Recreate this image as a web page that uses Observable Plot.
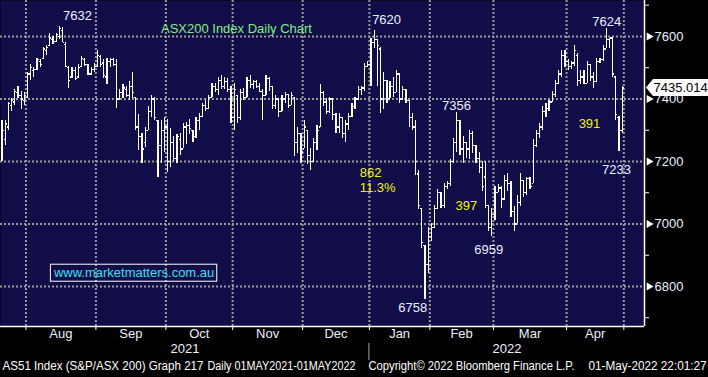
<!DOCTYPE html>
<html><head><meta charset="utf-8">
<script src="https://cdn.jsdelivr.net/npm/d3@7"></script>
<script src="https://cdn.jsdelivr.net/npm/@observablehq/plot@0.6"></script>
<style>
html,body{margin:0;padding:0;background:#000;}
#chart{width:708px;height:377px;overflow:hidden;}
</style></head><body><div id="chart"></div>
<script>
// ---- data (daily OHLC, ASX200, late Jul 2021 - 29 Apr 2022) ----
const openP = [
  7210,7270,7310,7380,7390,7420,7410,7395,
  7405,7480,7490,7495,7520,7530,7555,7570,7590,7585,7600,7620,7575,7500,7470,7490,7470,7505,7525,7510,7480,7495,
  7505,7535,7515,7470,7520,7525,7510,7400,7420,7430,7410,7440,7405,7310,7280,7260,7300,7360,7400,7330,7250,7300,
  7310,7200,7260,7210,7270,7240,7310,7315,7300,7280,7330,7345,7380,7370,7405,7440,7430,7460,7440,7455,7430,
  7340,7410,7340,7420,7405,7460,7445,7455,7440,7425,7410,7465,7440,7380,7400,7360,7400,7415,7380,7405,7260,7290,
  7240,7300,7220,7200,7260,7310,7420,7390,7360,7400,7350,7310,7340,7290,7320,7345,7375,7400,7430,7435,7505,
  7510,7580,7590,7560,7400,7460,7400,7440,7420,7480,7400,7430,7395,7340,7310,7160,7050,6930,6870,
  6960,6990,7050,7100,7060,7120,7130,7200,7260,7330,7240,7260,7240,7290,7250,7210,7180,7150,7060,6990,
  7030,7100,7115,7080,7140,7130,7040,7000,7070,7140,7100,7145,7130,7250,7290,7310,7360,7370,7390,7415,7450,7480,7540,
  7520,7505,7515,7540,7460,7470,7450,7510,7470,7455,7520,7525,7560,7590,7595,7470,7340,7300
];
const highP = [
  7330,7330,7390,7400,7430,7440,7425,7420,
  7485,7510,7500,7530,7525,7565,7570,7610,7600,7610,7632,7628,7580,7505,7500,7500,7510,7535,7530,7510,7500,7515,
  7555,7540,7525,7530,7530,7530,7525,7430,7445,7440,7455,7485,7405,7350,7290,7310,7375,7410,7405,7330,7330,7340,
  7335,7305,7280,7285,7290,7320,7325,7335,7300,7340,7355,7385,7395,7410,7450,7450,7470,7475,7470,7465,7440,
  7450,7410,7430,7435,7470,7475,7460,7460,7450,7430,7475,7470,7440,7410,7400,7410,7420,7415,7420,7405,7310,7290,
  7330,7300,7240,7275,7315,7445,7425,7400,7405,7400,7355,7355,7340,7330,7355,7385,7405,7440,7440,7515,7520,
  7595,7620,7590,7565,7485,7460,7455,7470,7490,7480,7440,7430,7395,7355,7330,7170,7050,6930,6990,
  7000,7060,7110,7100,7130,7135,7205,7275,7356,7330,7280,7260,7300,7295,7250,7230,7200,7200,7060,7050,
  7120,7125,7120,7155,7160,7135,7055,7090,7160,7140,7150,7150,7270,7300,7320,7375,7385,7395,7425,7460,7490,7555,7555,
  7525,7520,7570,7545,7490,7490,7520,7510,7485,7530,7530,7570,7624,7595,7595,7470,7345,7440
];
const lowP = [
  7200,7250,7300,7360,7380,7400,7365,7380,
  7400,7460,7470,7490,7500,7525,7540,7570,7575,7580,7590,7580,7500,7435,7465,7460,7465,7500,7505,7475,7475,7485,
  7500,7500,7465,7445,7500,7505,7370,7395,7400,7405,7395,7400,7300,7235,7195,7245,7300,7340,7330,7150,7195,7230,
  7165,7180,7200,7195,7220,7240,7255,7285,7260,7275,7300,7340,7360,7370,7405,7420,7410,7430,7430,7420,7320,
  7300,7320,7330,7395,7405,7435,7430,7435,7420,7330,7410,7425,7365,7365,7340,7360,7385,7370,7380,7215,7225,7195,
  7240,7190,7170,7200,7235,7310,7375,7350,7355,7330,7290,7290,7275,7260,7300,7340,7365,7395,7410,7425,7500,
  7440,7560,7440,7355,7365,7385,7400,7405,7420,7385,7395,7385,7310,7300,7155,7045,6920,6758,6840,
  6945,6985,7050,7050,7050,7110,7120,7195,7230,7220,7195,7210,7205,7225,7195,7160,7105,7050,6975,6959,
  7010,7100,7050,7080,7105,7020,6975,7000,7055,7085,7090,7110,7130,7245,7275,7300,7340,7360,7390,7405,7450,7470,7500,
  7490,7495,7505,7440,7445,7445,7450,7455,7435,7455,7515,7520,7560,7560,7470,7330,7233,7290
];
const closeP = [
  7300,7320,7385,7395,7425,7410,7400,7410,
  7480,7500,7495,7525,7510,7560,7565,7595,7585,7605,7625,7580,7505,7460,7490,7465,7500,7530,7510,7480,7495,7505,
  7540,7510,7475,7520,7525,7510,7400,7420,7435,7410,7440,7420,7310,7280,7240,7300,7360,7400,7340,7250,7300,7310,
  7200,7260,7210,7280,7240,7310,7315,7305,7270,7330,7345,7380,7370,7405,7440,7430,7460,7440,7455,7430,7340,
  7430,7340,7420,7405,7460,7445,7455,7440,7425,7410,7465,7440,7380,7400,7360,7400,7415,7380,7410,7260,7290,7230,
  7310,7220,7200,7260,7300,7420,7390,7360,7400,7350,7310,7340,7290,7320,7345,7375,7400,7430,7435,7505,7510,
  7580,7590,7570,7400,7460,7400,7440,7420,7480,7400,7430,7395,7340,7310,7200,7060,6940,6870,6960,
  6990,7050,7100,7060,7120,7130,7200,7260,7330,7240,7260,7240,7290,7250,7210,7180,7120,7060,6990,7030,
  7100,7115,7080,7140,7130,7040,7000,7070,7140,7100,7145,7120,7250,7290,7310,7360,7370,7390,7415,7450,7480,7540,7520,
  7505,7515,7555,7460,7470,7450,7510,7470,7455,7520,7525,7560,7590,7595,7480,7350,7300,7435.014
];
// month boundaries (bar index of first trading day) and labels
const monthStarts = [8, 30, 52, 73, 95, 116, 135, 155, 178, 196];
const monthNames = ["Aug","Sep","Oct","Nov","Dec","Jan","Feb","Mar","Apr"];
const yearNames = ["2021","2022"];
const yearSpans = [[0,116],[116,202.5]];
const yMajor = [6800, 7000, 7200, 7400, 7600];
const yMinor = [6700, 6900, 7100, 7300, 7500, 7700];
// annotations: text, bar-index position, price position
const annoText = ["7632","7620","7624","7356","7233","6959","6758"];
const annoX    = [24.2, 121.4, 190.6, 143.4, 193.7, 153.5, 129.6];
const annoY    = [7667, 7654, 7648, 7379, 7174, 6918, 6733];
const noteText = ["391","862","11.3%","397"];
const noteX    = [185.2, 116.4, 118.6, 146.5];
const noteY    = [7321, 7165, 7117, 7059];
const titleText = "ASX200 Index Daily Chart";
const urlText = "www.marketmatters.com.au";
const footer = ["AS51 Index (S&P/ASX 200) Graph 217","Daily 01MAY2021-01MAY2022","Copyright\u00a9 2022 Bloomberg Finance L.P.","01-May-2022 22:01:27"];

// ---- build ----
const bars = openP.map((o,i)=>({i, open:o, high:highP[i], low:lowP[i], close:closeP[i]}));
const months = monthNames.map((m,k)=>({m, mid:(monthStarts[k]+monthStarts[k+1])/2}));
const years = yearNames.map((y,k)=>({y, mid:(yearSpans[k][0]+yearSpans[k][1])/2}));
const annos = annoText.map((t,k)=>({t, x:annoX[k], y:annoY[k]}));
const notes = noteText.map((t,k)=>({t, x:noteX[k], y:noteY[k]}));
const NAVY = "#100d48", GRID = "#9a9a9a", TXT = "#eaf0ff";
const FONT = "'Liberation Sans', Arial, sans-serif";
const footX = [2, 207, 368, 588];
const footW = [201, 148, 206, 118];
const barStyle = {stroke: "#fff", strokeWidth: 1.2, shapeRendering: "crispEdges"};

const chart = Plot.plot({
  width: 708, height: 377,
  marginTop: 0, marginLeft: 0, marginRight: 64, marginBottom: 51,
  style: {background: "#000", color: "#fff", fontFamily: FONT, fontSize: "13px", overflow: "visible"},
  x: {domain: [0, 202.5], ticks: monthStarts, tickSize: 4, tickFormat: () => "", label: null},
  y: {domain: [6672, 7715], axis: "right", ticks: yMinor, tickSize: 4, tickFormat: () => "", label: null},
  marks: [
    Plot.frame({fill: NAVY, stroke: null}),
    Plot.ruleY(yMajor, {stroke: GRID, strokeWidth: 2, strokeDasharray: "2,2"}),
    Plot.ruleX(monthStarts, {stroke: GRID, strokeWidth: 2, strokeDasharray: "2,2"}),
    Plot.ruleX(bars, {x: d => d.i + 0.5, y1: "low", y2: "high", ...barStyle}),
    Plot.link(bars, {x1: d => d.i, x2: d => d.i + 0.5, y1: "open", y2: "open", ...barStyle}),
    Plot.link(bars, {x1: d => d.i + 0.5, x2: d => d.i + 1, y1: "close", y2: "close", ...barStyle}),
    Plot.ruleX([202.5], {stroke: "#fff", strokeWidth: 1.5}),
    Plot.ruleY([6672], {stroke: "#fff", strokeWidth: 1.5}),
    Plot.dot(yMajor, {y: d => d, frameAnchor: "right", dx: 4.5, symbol: "triangle", rotate: 90, r: 3, fill: "#fff", stroke: null}),
    Plot.text(yMajor, {y: d => d, text: d => String(d), frameAnchor: "right", dx: 10, textAnchor: "start", fill: TXT, fontSize: 13}),
    Plot.text(months, {x: "mid", text: "m", frameAnchor: "bottom", dy: 11, fill: TXT, fontSize: 13}),
    Plot.text(years, {x: "mid", text: "y", frameAnchor: "bottom", dy: 26, fill: TXT, fontSize: 13}),
    Plot.text(annos, {x: "x", y: "y", text: "t", fill: TXT, fontSize: 13}),
    Plot.text(notes, {x: "x", y: "y", text: "t", fill: "#f4f400", fontSize: 13}),
    Plot.text([titleText], {x: 74.2, y: 7625, text: d => d, fill: "#80f080", fontSize: 13}),
    Plot.text([urlText], {x: 42, y: 6843, text: d => d, fill: "#36e0f0", fontSize: 13}),
    Plot.text(footer, {frameAnchor: "bottom-left", text: d => d, textAnchor: "start", dy: 43, fill: "#fff", fontSize: 12})
  ]
});
document.getElementById("chart").appendChild(chart);

// post layout using the plot's own scales
const svg = d3.select(chart);
const xS = chart.scale("x"), yS = chart.scale("y");
// footer positions and widths
svg.selectAll("text").each(function(){
  const k = footer.indexOf(this.textContent);
  if (k >= 0) {
    d3.select(this).attr("x", footX[k]).attr("textLength", footW[k]).attr("lengthAdjust", "spacingAndGlyphs");
  }
});
// url box
svg.selectAll("text").each(function(){
  if (this.textContent === urlText) {
    const r = this.getBoundingClientRect();
    const s = chart.getBoundingClientRect();
    svg.append("rect").attr("x", r.left - s.left - 2.5).attr("y", r.top - s.top - 1)
      .attr("width", r.width + 5).attr("height", r.height + 2)
      .attr("fill", "none").attr("stroke", "#fff").attr("stroke-width", 1);
  }
});
// year separator
const xs = xS.apply(monthStarts[5]);
svg.append("line").attr("x1", xs).attr("x2", xs).attr("y1", 343).attr("y2", 360).attr("stroke", "#8a8a8a").attr("stroke-width", 1.2);
// last price tag
const last = closeP[closeP.length - 1];
const yl = yS.apply(last);
const xr = xS.apply(202.5);
svg.append("path")
  .attr("d", `M${xr+2},${yl} L${xr+9},${yl-8.5} L708,${yl-8.5} L708,${yl+8.5} L${xr+9},${yl+8.5} Z`)
  .attr("fill", "#ffffff").attr("stroke", "none");
svg.append("text").attr("x", xr + 9.5).attr("y", yl).attr("dy", "0.35em")
  .attr("text-anchor", "start").style("fill", "#000")
  .attr("font-size", 13).attr("font-family", FONT).text(last.toFixed(3));
</script>
</body></html>
